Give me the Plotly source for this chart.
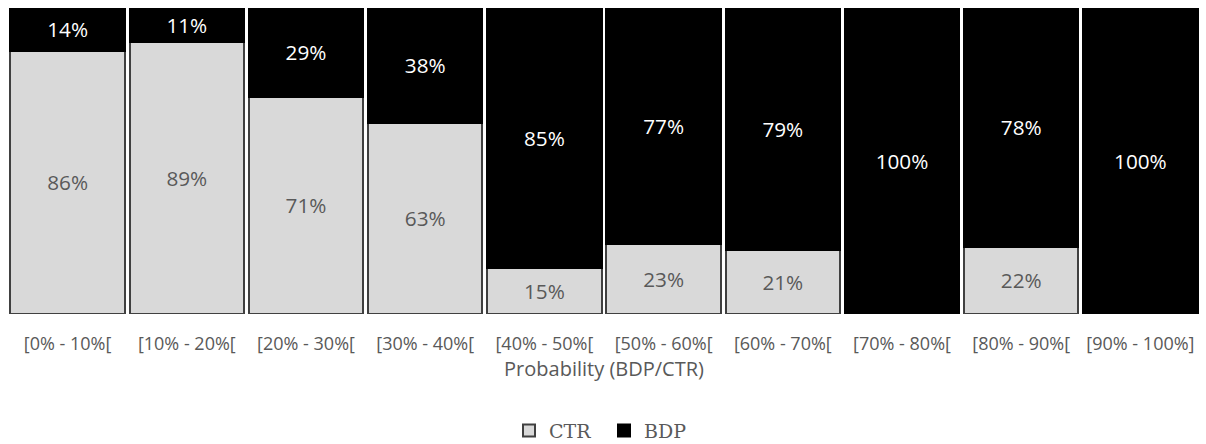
import plotly.graph_objects as go

categories = ["[0% - 10%[", "[10% - 20%[", "[20% - 30%[", "[30% - 40%[", "[40% - 50%[",
              "[50% - 60%[", "[60% - 70%[", "[70% - 80%[", "[80% - 90%[", "[90% - 100%]"]
ctr = [86, 89, 71, 63, 15, 23, 21, 0, 22, 0]
bdp = [14, 11, 29, 38, 85, 77, 79, 100, 78, 100]


def labels(vals):
    return [f"{v}%" if v else "" for v in vals]


fig = go.Figure()
fig.add_trace(go.Bar(
    name="CTR", x=categories, y=ctr, text=labels(ctr),
    marker=dict(color="#d9d9d9", line=dict(color="#404040", width=2)),
    textposition="inside", insidetextanchor="middle", textangle=0,
    textfont=dict(family="Open Sans", size=21, color="#595959"),
))
fig.add_trace(go.Bar(
    name="BDP", x=categories, y=bdp, text=labels(bdp),
    marker=dict(color="#000000", line=dict(color="#000000", width=2)),
    textposition="inside", insidetextanchor="middle", textangle=0,
    textfont=dict(family="Open Sans", size=21, color="#ffffff"),
))

fig.update_layout(
    width=1206, height=444,
    barmode="stack", barnorm="percent", bargap=0.04,
    margin=dict(l=8, r=6, t=8, b=130, autoexpand=False),
    plot_bgcolor="white", paper_bgcolor="white",
    uniformtext=dict(minsize=8, mode="show"),
    legend=dict(orientation="h", x=0.5, xanchor="center",
                yref="container", y=0.03, yanchor="middle",
                font=dict(family="DejaVu Serif", size=19, color="#595959"),
                itemwidth=30, entrywidth=50, entrywidthmode="pixels",
                traceorder="normal"),
    showlegend=True,
)
fig.update_xaxes(
    showline=False, showgrid=False, ticks="", automargin=False,
    tickfont=dict(family="Open Sans", size=18, color="#595959"),
    ticklabelstandoff=17,
    title=dict(text="Probability (BDP/CTR)", standoff=6,
               font=dict(family="Open Sans", size=20, color="#595959")),
)
fig.update_yaxes(visible=False, range=[0, 100])

fig.write_html("out.html")
